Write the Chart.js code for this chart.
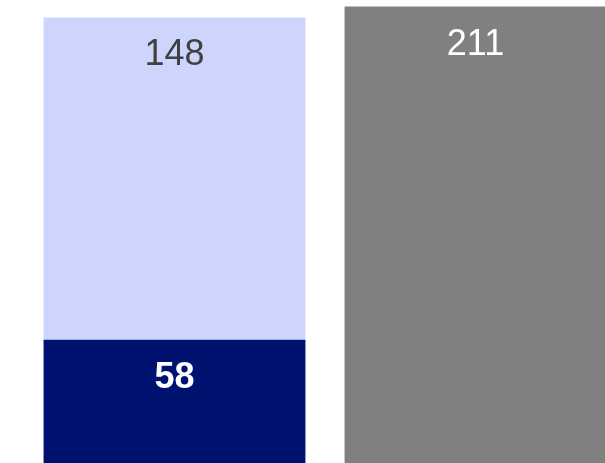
<!DOCTYPE html>
<html lang="en">
<head>
  <meta charset="UTF-8">
  <title>Stacked bars</title>
  <script src="https://cdn.jsdelivr.net/npm/chart.js"></script>
  <style>
    html, body { margin: 0; padding: 0; background: #fff; overflow: hidden; }
    #wrap { position: relative; width: 626px; height: 466px; }
  </style>
</head>
<body>
  <div id="wrap"><canvas id="chart"></canvas></div>

  <script>
    const categories = ["A", "B"];
    const bottomValues = [58, null];
    const topValues = [148, null];
    const otherValues = [null, 211];

    // label style per dataset
    const labelStyles = [
      { color: "#ffffff", font: "bold 36px 'Liberation Sans', Arial, sans-serif" },
      { color: "#404040", font: "36px 'Liberation Sans', Arial, sans-serif" },
      { color: "#ffffff", font: "36px 'Liberation Sans', Arial, sans-serif" }
    ];

    const barLabels = {
      id: "barLabels",
      afterDatasetsDraw(chart) {
        const ctx = chart.ctx;
        ctx.save();
        ctx.textAlign = "center";
        ctx.textBaseline = "alphabetic";
        chart.data.datasets.forEach((ds, i) => {
          const meta = chart.getDatasetMeta(i);
          meta.data.forEach((bar, j) => {
            const v = ds.data[j];
            if (v == null) return;
            ctx.fillStyle = labelStyles[i].color;
            ctx.font = labelStyles[i].font;
            ctx.fillText(String(v), bar.x, bar.y + 48);
          });
        });
        ctx.restore();
      }
    };

    new Chart(document.getElementById("chart"), {
      type: "bar",
      data: {
        labels: categories,
        datasets: [
          { data: bottomValues, backgroundColor: "#001270" },
          { data: topValues, backgroundColor: "#ced5fc" },
          { data: otherValues, backgroundColor: "#808080" }
        ]
      },
      options: {
        responsive: true,
        maintainAspectRatio: false,
        animation: false,
        layout: { padding: { left: 24, right: 0, top: 0, bottom: 0 } },
        datasets: { bar: { categoryPercentage: 1, barPercentage: 0.87, borderWidth: 0 } },
        plugins: { legend: { display: false }, tooltip: { enabled: false } },
        scales: {
          x: { stacked: true, display: false },
          y: { stacked: true, display: false, min: 0, max: 214 }
        }
      },
      plugins: [barLabels]
    });
  </script>
</body>
</html>
